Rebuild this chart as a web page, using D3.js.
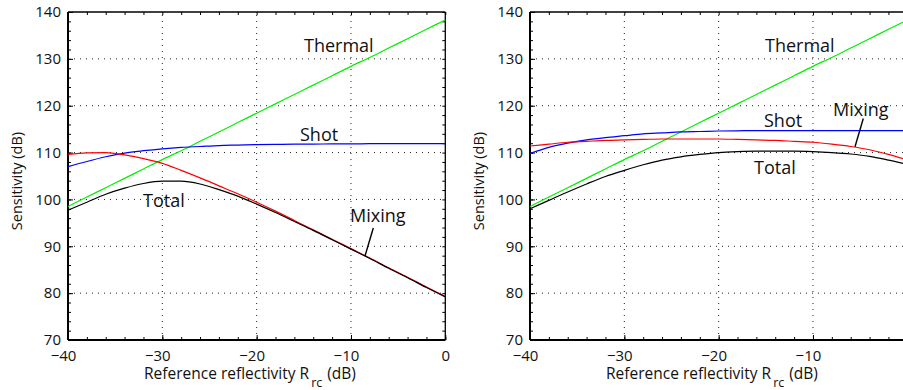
<!DOCTYPE html>
<html>
<head>
<meta charset="utf-8">
<script src="https://cdn.jsdelivr.net/npm/d3@7"></script>
<style>
  body { margin: 0; background: #fff; }
  svg { display: block; }
</style>
</head>
<body>
<div id="chart"></div>
<script>
// reference reflectivity (dB), same grid for both panels
const refDb = [-40, -38, -36, -34, -32, -30, -28, -26, -24, -22, -20, -18, -16, -14, -12, -10, -8, -6, -4, -2, 0];

// thermal line is the same in both panels
const thermalDb = [98.5, 100.5, 102.5, 104.5, 106.5, 108.5, 110.4, 112.4, 114.4, 116.4, 118.4, 120.4, 122.4, 124.4, 126.4, 128.4, 130.3, 132.3, 134.3, 136.3, 138.3];

// left panel
const shotLeft = [107.0, 108.1, 109.1, 109.9, 110.4, 110.8, 111.1, 111.3, 111.5, 111.6, 111.7, 111.75, 111.8, 111.8, 111.85, 111.85, 111.9, 111.9, 111.9, 111.9, 111.9];
const mixingLeft = [109.6, 109.95, 110.0, 109.5, 108.7, 107.7, 106.2, 104.6, 102.9, 101.2, 99.4, 97.5, 95.5, 93.5, 91.5, 89.5, 87.5, 85.4, 83.4, 81.3, 79.3];
const totalLeft = [97.7, 99.4, 101.1, 102.4, 103.4, 103.9, 103.9, 103.3, 102.1, 100.7, 99.0, 97.2, 95.3, 93.4, 91.4, 89.4, 87.4, 85.3, 83.3, 81.2, 79.2];

// right panel
const shotRight = [109.8, 111.1, 112.0, 112.7, 113.2, 113.6, 114.0, 114.2, 114.4, 114.5, 114.6, 114.65, 114.7, 114.7, 114.7, 114.7, 114.7, 114.7, 114.7, 114.7, 114.7];
const mixingRight = [111.4, 111.8, 112.2, 112.4, 112.6, 112.7, 112.8, 112.9, 112.9, 112.9, 112.9, 112.8, 112.7, 112.6, 112.4, 112.2, 111.8, 111.3, 110.6, 109.6, 108.4];
const totalRight = [98.0, 99.8, 101.6, 103.3, 104.9, 106.2, 107.4, 108.4, 109.1, 109.6, 110.0, 110.2, 110.3, 110.3, 110.3, 110.2, 110.0, 109.7, 109.2, 108.4, 107.5];

// ticks
const xMajor = [-40, -30, -20, -10, 0];
const yMajor = [70, 80, 90, 100, 110, 120, 130, 140];
const xMinor = d3.range(-40, 0.1, 2);
const yMinor = d3.range(70, 140.1, 2);

// colours (matlab style)
const thermalColor = "#00ee00";
const shotColor = "#0000ff";
const mixingColor = "#ff0000";
const totalColor = "#000000";

const W = 903, H = 390;
const fontFam = "'Open Sans', sans-serif";

const svg = d3.select("#chart")
  .append("svg")
  .attr("width", W)
  .attr("height", H)
  .style("background", "#fff");

const y = d3.scaleLinear().domain([70, 140]).range([340, 12]);

function fmt(v) {
  return v < 0 ? "\u2212" + Math.abs(v) : String(v);
}

function drawPanel(left, series, labels, pointer, hideZero) {
  const x = d3.scaleLinear().domain([-40, 0]).range([left, left + 377.3]);
  const g = svg.append("g");

  // dotted grid
  g.selectAll(".gx")
    .data(xMajor.filter(d => d > -40 && d < 0))
    .enter().append("line")
    .attr("x1", d => x(d)).attr("x2", d => x(d))
    .attr("y1", y(70)).attr("y2", y(140))
    .attr("stroke", "#222").attr("stroke-width", 1)
    .attr("stroke-dasharray", "1,5");
  g.selectAll(".gy")
    .data(yMajor.filter(d => d > 70 && d < 140))
    .enter().append("line")
    .attr("x1", x(-40)).attr("x2", x(0))
    .attr("y1", d => y(d)).attr("y2", d => y(d))
    .attr("stroke", "#222").attr("stroke-width", 1)
    .attr("stroke-dasharray", "1,5");

  // inward minor ticks on all four sides
  const tickAxes = [
    [d3.axisBottom(x), `translate(0,${y(70)})`, xMinor],
    [d3.axisTop(x), `translate(0,${y(140)})`, xMinor],
    [d3.axisLeft(y), `translate(${x(-40)},0)`, yMinor],
    [d3.axisRight(y), `translate(${x(0)},0)`, yMinor]
  ];
  tickAxes.forEach(function (a) {
    const ax = g.append("g")
      .attr("transform", a[1])
      .call(a[0].tickValues(a[2]).tickSize(-3).tickFormat(""));
    ax.select(".domain").remove();
    ax.selectAll("line").attr("stroke", "#000");
  });

  // tick labels
  const xl = g.append("g")
    .attr("transform", `translate(0,${y(70)})`)
    .call(d3.axisBottom(x)
      .tickValues(hideZero ? xMajor.filter(d => d < 0) : xMajor)
      .tickSize(-5).tickPadding(10).tickFormat(fmt));
  xl.select(".domain").remove();
  xl.selectAll("line").attr("stroke", "#000");
  xl.selectAll("text")
    .attr("dx", d => d < 0 ? -5 : 0)
    .style("font-family", fontFam).style("font-size", "15px").attr("fill", "#111");

  const yl = g.append("g")
    .attr("transform", `translate(${x(-40)},0)`)
    .call(d3.axisLeft(y).tickValues(yMajor).tickSize(-5).tickPadding(7).tickFormat(fmt));
  yl.select(".domain").remove();
  yl.selectAll("line").attr("stroke", "#000");
  yl.selectAll("text")
    .style("font-family", fontFam).style("font-size", "15px").attr("fill", "#111");

  // box
  g.append("line").attr("x1", x(-40)).attr("x2", x(0)).attr("y1", y(140)).attr("y2", y(140))
    .attr("stroke", "#000").attr("stroke-width", 1.3);
  g.append("line").attr("x1", x(0)).attr("x2", x(0)).attr("y1", y(70)).attr("y2", y(140))
    .attr("stroke", "#000").attr("stroke-width", 1.3);
  g.append("line").attr("x1", x(-40)).attr("x2", x(0)).attr("y1", y(70)).attr("y2", y(70))
    .attr("stroke", "#000").attr("stroke-width", 2);
  g.append("line").attr("x1", x(-40)).attr("x2", x(-40)).attr("y1", y(70)).attr("y2", y(140))
    .attr("stroke", "#000").attr("stroke-width", 2);

  // curves
  const line = d3.line()
    .x((d, i) => x(refDb[i]))
    .y(d => y(d))
    .curve(d3.curveMonotoneX);
  series.forEach(function (s) {
    g.append("path")
      .attr("d", line(s.values))
      .attr("fill", "none")
      .attr("stroke", s.color)
      .attr("stroke-width", 1.2);
  });

  // curve names
  labels.forEach(function (l) {
    g.append("text")
      .attr("x", l.x).attr("y", l.y)
      .text(l.text)
      .style("font-family", fontFam).style("font-size", "18px").attr("fill", "#111");
  });
  g.append("line")
    .attr("x1", pointer[0]).attr("y1", pointer[1])
    .attr("x2", pointer[2]).attr("y2", pointer[3])
    .attr("stroke", "#000").attr("stroke-width", 1.4);

  // axis titles
  g.append("text")
    .attr("transform", `translate(${left - 46},181)rotate(-90)`)
    .attr("text-anchor", "middle")
    .text("Sensitivity (dB)")
    .style("font-family", fontFam).style("font-size", "14.5px").attr("fill", "#111");

  const t = g.append("text")
    .attr("x", left + 76).attr("y", 378.5)
    .style("font-family", fontFam).style("font-size", "15.5px").attr("fill", "#111");
  t.append("tspan").text("Reference reflectivity R");
  t.append("tspan").attr("dx", 2).attr("dy", 8).style("font-size", "12.5px").text("rc");
  t.append("tspan").attr("dx", 5).attr("dy", -8).text("(dB)");
}

drawPanel(68,
  [
    { values: thermalDb, color: thermalColor },
    { values: shotLeft, color: shotColor },
    { values: mixingLeft, color: mixingColor },
    { values: totalLeft, color: totalColor }
  ],
  [
    { text: "Thermal", x: 304, y: 52 },
    { text: "Shot", x: 300, y: 141 },
    { text: "Total", x: 143, y: 207 },
    { text: "Mixing", x: 350, y: 222 }
  ],
  [373.3, 228, 365, 256],
  false);

drawPanel(530,
  [
    { values: thermalDb, color: thermalColor },
    { values: shotRight, color: shotColor },
    { values: mixingRight, color: mixingColor },
    { values: totalRight, color: totalColor }
  ],
  [
    { text: "Thermal", x: 765, y: 52 },
    { text: "Shot", x: 764, y: 127 },
    { text: "Total", x: 754, y: 174 },
    { text: "Mixing", x: 833, y: 116 }
  ],
  [863.3, 118.5, 855, 146.7],
  true);
</script>
</body>
</html>
